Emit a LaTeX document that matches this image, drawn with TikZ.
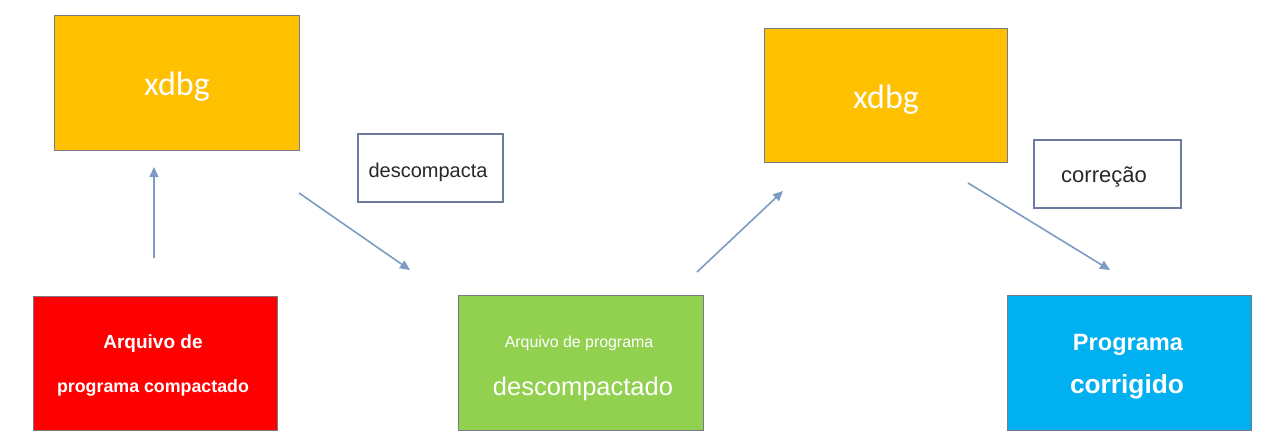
\documentclass[tikz,border=0pt]{standalone}
\usepackage{fontspec}
\setmainfont{Liberation Sans}
\newfontfamily\calib{Carlito}
\usetikzlibrary{arrows.meta}
\definecolor{cyel}{HTML}{FFC000}
\definecolor{cred}{HTML}{FF0000}
\definecolor{cgrn}{HTML}{92D050}
\definecolor{cblu}{HTML}{00B0F0}
\definecolor{cedge}{RGB}{120,122,135}
\definecolor{clbl}{RGB}{110,122,160}
\definecolor{carrow}{RGB}{125,155,195}
\definecolor{ctxt}{RGB}{40,40,40}
\tikzset{
  bigbox/.style={draw=cedge, line width=1pt},
  lblbox/.style={draw=clbl, line width=1.4pt, fill=white},
  wtxt/.style={text=white, anchor=base, inner sep=0pt},
  dtxt/.style={text=ctxt, anchor=base, inner sep=0pt},
  flow/.style={draw=carrow, line width=1.6pt, -{Triangle[length=10pt,width=9pt]}},
}
\begin{document}
\begin{tikzpicture}[x=1pt,y=-1pt]
\useasboundingbox (0,0) rectangle (1268,447);
% boxes
\path[bigbox, fill=cyel] (54,15) rectangle (299,150);
\path[bigbox, fill=cyel] (764,28) rectangle (1007,162);
\path[bigbox, fill=cred] (33,296) rectangle (277,430);
\path[bigbox, fill=cgrn] (458,295) rectangle (703,430);
\path[bigbox, fill=cblu] (1007,295) rectangle (1251,430);
\path[lblbox] (358,134) rectangle (503,202);
\path[lblbox] (1034,140) rectangle (1181,208);
% texts
\node[wtxt, font=\calib\fontsize{34}{36}\selectfont] (x1) at (177,95) {xdbg};
\node[wtxt, font=\calib\fontsize{34}{36}\selectfont] (x2) at (886,108) {xdbg};
\node[wtxt, font=\bfseries\fontsize{19}{22}\selectfont] (r1) at (153,348) {Arquivo de};
\node[wtxt, font=\bfseries\fontsize{17.8}{20}\selectfont] (r2) at (153,392) {programa compactado};
\node[wtxt, font=\fontsize{15.9}{18}\selectfont] (g1) at (579,347) {Arquivo de programa};
\node[wtxt, font=\fontsize{25.5}{28}\selectfont] (g2) at (583,395) {descompactado};
\node[wtxt, font=\bfseries\fontsize{23.6}{26}\selectfont] (b1) at (1128,350) {Programa};
\node[wtxt, font=\bfseries\fontsize{26.3}{28}\selectfont] (b2) at (1127,393) {corrigido};
\node[dtxt, font=\fontsize{20}{22}\selectfont] (l1) at (428,177) {descompacta};
\node[dtxt, font=\fontsize{22}{24}\selectfont] (l2) at (1104,182) {correção};
% arrow endpoints
\coordinate (a1s) at (154,258); \coordinate (a1e) at (154,167);
\coordinate (a2s) at (299,193); \coordinate (a2e) at (410,270);
\coordinate (a3s) at (697,272); \coordinate (a3e) at (783,191);
\coordinate (a4s) at (968,183); \coordinate (a4e) at (1110,270);
\draw[flow] (a1s) -- (a1e);
\draw[flow] (a2s) -- (a2e);
\draw[flow] (a3s) -- (a3e);
\draw[flow] (a4s) -- (a4e);
\end{tikzpicture}
\end{document}
